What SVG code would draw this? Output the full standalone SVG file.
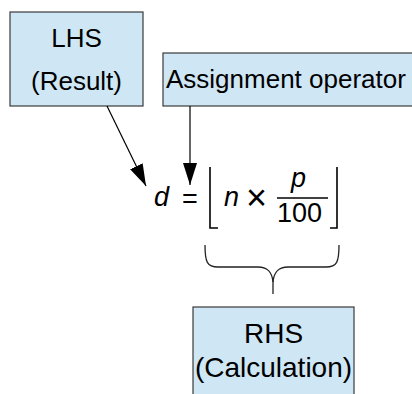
<svg xmlns="http://www.w3.org/2000/svg" width="412" height="394" viewBox="0 0 412 394">
  <style>
    .box { fill: #cfe7f5; stroke: #3a3a3a; stroke-width: 1.2; }
    .lbl { font-family: "Liberation Sans", Arial, sans-serif; font-size: 26px; fill: #000; }
    .big { font-size: 28px; }
    .mid { text-anchor: middle; }
    .math { font-family: "Liberation Sans", Arial, sans-serif; font-size: 27px; fill: #000; }
    .var { font-style: italic; }
    .op { font-size: 36px; }
    .conn { stroke: #000; stroke-width: 1.2; fill: none; }
    .rule { stroke: #000; stroke-width: 1.6; fill: none; }
    .brace { stroke: #222; stroke-width: 1.3; fill: none; }
  </style>
  <defs>
    <marker id="arrow" viewBox="0 0 22 14" refX="22" refY="7" markerWidth="22" markerHeight="14" markerUnits="userSpaceOnUse" orient="auto">
      <path d="M0,0 L22,7 L0,14 Z" fill="#000"/>
    </marker>
  </defs>

  <rect width="412" height="394" fill="#fff"/>

  <g id="lhs">
    <rect class="box" x="10" y="12" width="133" height="94"/>
    <text class="lbl mid" x="76.5" y="47">LHS</text>
    <text class="lbl mid" x="76.5" y="90">(Result)</text>
  </g>

  <g id="assignment">
    <rect class="box" x="163" y="53" width="260" height="53"/>
    <text class="lbl" x="166" y="88">Assignment operator</text>
  </g>

  <g id="rhs">
    <rect class="box" x="193" y="307" width="161" height="100"/>
    <text class="lbl big mid" x="273.5" y="343">RHS</text>
    <text class="lbl big mid" x="273.5" y="377">(Calculation)</text>
  </g>

  <g id="formula">
    <text class="math var" x="154" y="206">d</text>
    <text class="math" x="182" y="208">=</text>
    <path class="rule" d="M210,167 V228 H218"/>
    <text class="math var" x="224" y="206">n</text>
    <text class="math op" x="246" y="210">×</text>
    <text class="math var" x="291" y="187">p</text>
    <line class="rule" x1="277" y1="198" x2="328" y2="198"/>
    <text class="math" x="277" y="222">100</text>
    <path class="rule" d="M337,167 V228 H330"/>
  </g>

  <g id="connectors">
    <line class="conn" x1="107" y1="106" x2="146" y2="186" marker-end="url(#arrow)"/>
    <line class="conn" x1="190" y1="106" x2="190" y2="185" marker-end="url(#arrow)"/>
    <path class="brace" d="M205,245 C205,262 207,267 218,267 L258,267 C268,267 272,272 273,282 L273,294"/>
    <path class="brace" d="M339,245 C339,262 337,267 326,267 L288,267 C278,267 274,272 273,282"/>
  </g>
</svg>
